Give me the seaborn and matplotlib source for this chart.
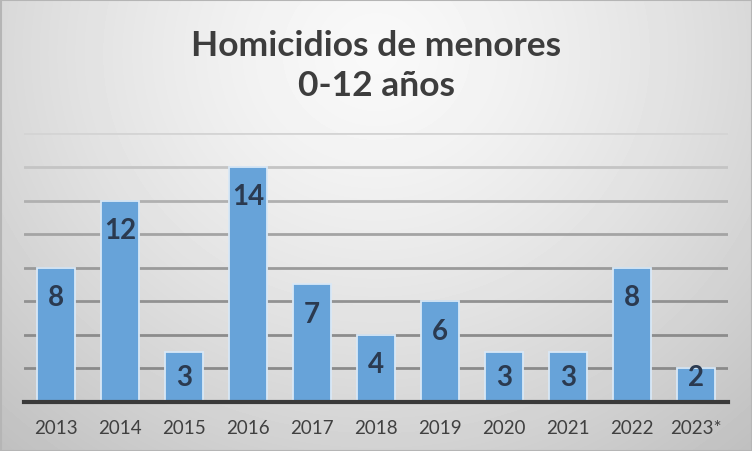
import numpy as np
import pandas as pd
import matplotlib
matplotlib.use("Agg")
import matplotlib.pyplot as plt
import seaborn as sns

# data
years = ["2013", "2014", "2015", "2016", "2017", "2018", "2019", "2020", "2021", "2022", "2023*"]
homicidios = [8, 12, 3, 14, 7, 4, 6, 3, 3, 8, 2]
title = "Homicidios de menores\n0-12 años"

df = pd.DataFrame({"anio": years, "valor": homicidios})

sns.set_theme(style="white")
plt.rcParams["font.family"] = ["Lato", "DejaVu Sans"]

W, H = 752, 452
fig = plt.figure(figsize=(W / 100, H / 100), dpi=100)

# radial gradient background
bg = fig.add_axes([0, 0, 1, 1], zorder=-10)
yy, xx = np.mgrid[0:H, 0:W]
r = np.sqrt(((xx - W * 0.5) / (W * 0.62)) ** 2 + ((yy - H * 0.12) / (H * 0.95)) ** 2)
shade = np.clip(0.975 - 0.17 * r ** 1.4, 0.75, 1.0)
bg.imshow(shade, cmap="gray", vmin=0, vmax=1, aspect="auto", extent=[0, W, H, 0])
bg.add_patch(plt.Rectangle((0.5, 0.5), W - 1, H - 1, fill=False, edgecolor="#b5b5b5", lw=1.5))
bg.set_xlim(0, W)
bg.set_ylim(H, 0)
bg.axis("off")

ax = fig.add_axes([24 / W, 1 - 403 / H, 704 / W, (403 - 134.4) / H])
ax.patch.set_alpha(0)

sns.barplot(data=df, x="anio", y="valor", color="#67a3d9", width=0.6,
            edgecolor="#d9e8f6", linewidth=1.3, saturation=1, ax=ax, zorder=3)

ax.set_ylim(0, 16)
ax.set_xlim(-0.5, len(years) - 0.5)
ax.set_yticks(range(0, 17, 2))
ax.set_yticklabels([])
ax.tick_params(axis="y", length=0)
ax.tick_params(axis="x", length=0, pad=12, labelsize=13.5, labelcolor="#404040")
ax.set_xlabel("")
ax.set_ylabel("")

# gridlines get darker toward the bottom
grid_cols = ["#8a8a8a", "#8c8c8c", "#929292", "#9a9a9a", "#a4a4a4", "#b0b0b0", "#c4c4c4", "#d4d4d4"]
for lvl, c in zip(range(2, 17, 2), grid_cols):
    ax.axhline(lvl, color=c, lw=2, zorder=1)

for s in ["top", "right", "left"]:
    ax.spines[s].set_visible(False)
ax.spines["bottom"].set_color("#3a3a3a")
ax.spines["bottom"].set_linewidth(3)
ax.spines["bottom"].set_zorder(5)

# value labels inside the bar end
for i, v in enumerate(homicidios):
    ax.text(i, max(v - 1.75, 1.5), str(v), ha="center", va="center",
            fontsize=20, fontweight="bold", color="#2b3a50", zorder=6)

fig.text(0.5, 1 - 66 / H, title, ha="center", va="center", fontsize=25.5,
         fontweight="bold", color="#3d3d3d", linespacing=1.3)

fig.savefig("out.png", dpi=100)
